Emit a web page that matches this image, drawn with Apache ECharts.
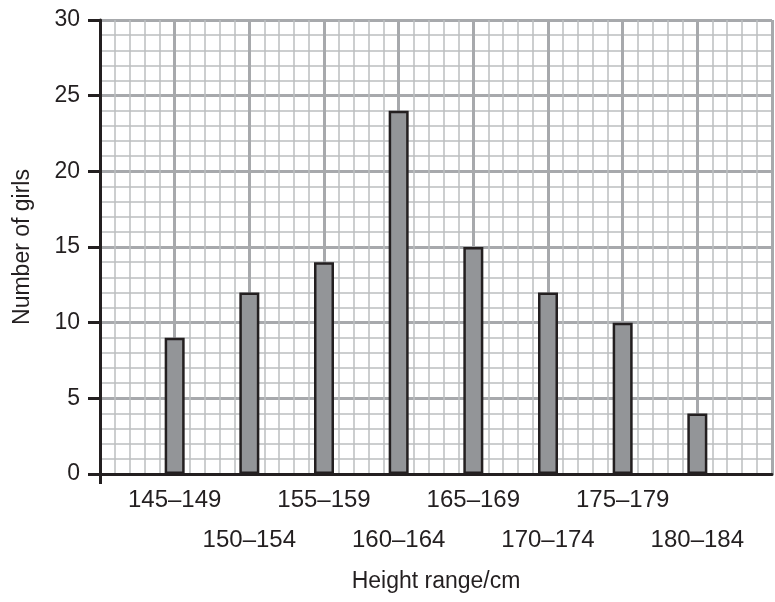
<!DOCTYPE html>
<html>
<head>
<meta charset="utf-8">
<script src="https://cdn.jsdelivr.net/npm/echarts@6/dist/echarts.min.js"></script>
<style>html,body{margin:0;padding:0;background:#fff}#c{width:775px;height:602px}</style>
</head>
<body>
<div id="c"></div>
<script>
const categories = ['145–149','150–154','155–159','160–164','165–169','170–174','175–179','180–184'];
const girls = [9, 12, 14, 24, 15, 12, 10, 4];
const yTicks = [0, 5, 10, 15, 20, 25, 30];

const ink = '#231f20';
const font = '"Liberation Sans", Arial, sans-serif';
const axisCats = [''].concat(categories, ['']);
const barData = [null].concat(girls, [null]);

const chart = echarts.init(document.getElementById('c'), null, {renderer: 'canvas'});
chart.setOption({
  animation: false,
  backgroundColor: '#fff',
  grid: {left: 100, right: 0, top: 20, bottom: 128, containLabel: false},
  xAxis: [{
    type: 'category',
    data: axisCats,
    boundaryGap: false,
    axisLine: {show: true, lineStyle: {color: ink, width: 3}},
    axisTick: {show: true, length: 10, lineStyle: {color: ink, width: 3}, interval: (i) => i === 0},
    axisLabel: {
      interval: 0, margin: 6, color: ink, fontSize: 24, fontFamily: font, lineHeight: 40,
      formatter: (v, i) => (i % 2 === 0 && v) ? '\n' + v : v
    },
    splitLine: {show: false},
    name: 'Height range/cm', nameLocation: 'middle', nameGap: 96,
    nameTextStyle: {color: ink, fontSize: 23, fontFamily: font}
  }, {
    type: 'value', min: 0, max: 9, interval: 1, position: 'bottom',
    axisLine: {show: false}, axisTick: {show: false}, axisLabel: {show: false},
    splitLine: {show: true, lineStyle: {color: '#a7a9ac', width: 3}},
    minorTick: {show: false, splitNumber: 5},
    minorSplitLine: {show: true, lineStyle: {color: '#bcbec0', width: 1.5}}
  }],
  yAxis: {
    type: 'value', min: yTicks[0], max: yTicks[yTicks.length - 1], interval: 5,
    axisLine: {show: true, lineStyle: {color: ink, width: 3}},
    axisTick: {show: true, length: 12, lineStyle: {color: ink, width: 3}},
    axisLabel: {color: ink, fontSize: 23, fontFamily: font, margin: 20},
    splitLine: {show: true, lineStyle: {color: '#a7a9ac', width: 3}},
    minorTick: {show: false, splitNumber: 5},
    minorSplitLine: {show: true, lineStyle: {color: '#bcbec0', width: 1.5}},
    name: 'Number of girls', nameLocation: 'middle', nameGap: 66, nameRotate: 90,
    nameTextStyle: {color: ink, fontSize: 23, fontFamily: font}
  },
  series: [{
    type: 'bar', xAxisIndex: 0, data: barData, barWidth: 20,
    itemStyle: {color: '#939598', borderColor: ink, borderWidth: 2.5}
  }]
});
</script>
</body>
</html>
